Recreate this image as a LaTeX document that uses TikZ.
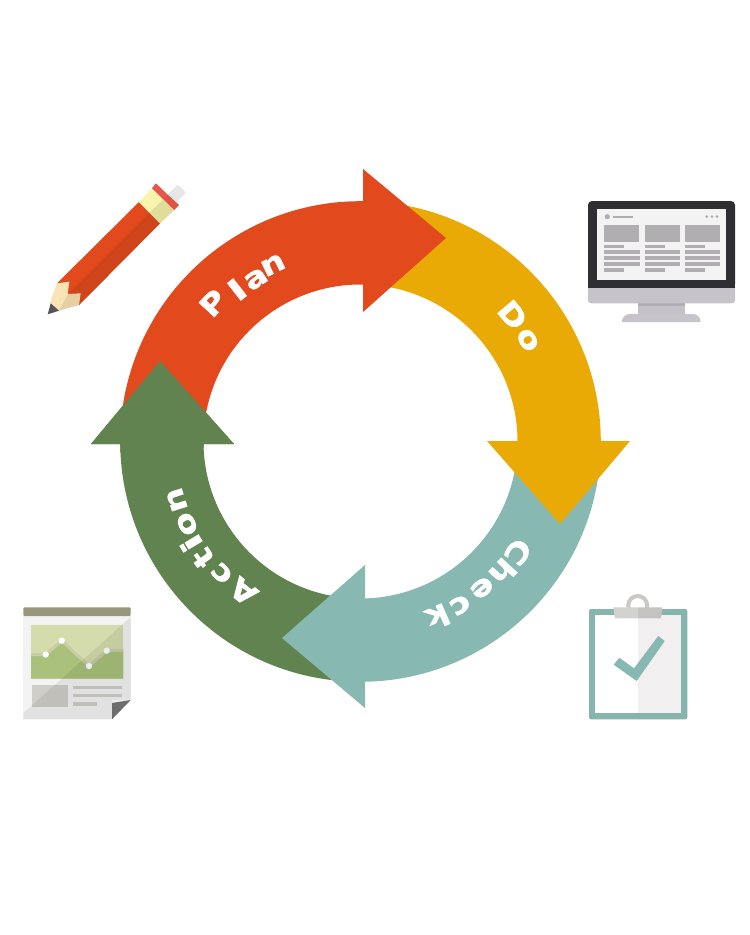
\documentclass[tikz,border=0pt]{standalone}
\usepackage{fontspec}
\usetikzlibrary{calc}
\setmainfont{DejaVu Sans}
\newfontfamily\labf[FakeStretch=1.18,BoldFeatures={FakeBold=1.2}]{DejaVu Sans}
\newfontfamily\labm[FakeStretch=1.5,BoldFeatures={FakeBold=1.2}]{DejaVu Sans}
\definecolor{cRed}{HTML}{E2491C}
\definecolor{cYel}{HTML}{EAAA05}
\definecolor{cTeal}{HTML}{88B8B2}
\definecolor{cGrn}{HTML}{60834F}
\definecolor{scr}{HTML}{B0AEB1}
\tikzset{
  letter/.style={text=white,inner sep=0pt,font=\labf\fontsize{29}{29}\bfseries\selectfont},
  slab/.style={text=white,inner sep=0pt,font=\labm\fontsize{29}{29}\bfseries\selectfont},
  blk/.style={fill=scr,draw=none},
  HTML/.code={\definecolor{tmpc}{HTML}{#1}\pgfkeysalso{color=tmpc}},
}
\newcommand{\band}[3]{\fill[#1] (360.5,441.5) ++(#2:240.3) arc[start angle=#2,end angle=#3,radius=240.3] -- ($(360.5,441.5)+(#3:157)$) arc[start angle=#3,end angle=#2,radius=157] -- cycle;}
\newcommand{\column}[1]{%
  \fill[blk] (#1,225) rectangle ++(35,17.3);
  \fill[blk] (#1,245) rectangle ++(20,3.3);
  \fill[blk] (#1,250) rectangle ++(35.5,4);
  \fill[blk] (#1,256) rectangle ++(35.5,4);
  \fill[blk] (#1,262) rectangle ++(35.5,4);
  \fill[blk] (#1,268.3) rectangle ++(20,3.7);
}
\begin{document}
\begin{tikzpicture}[x=1pt,y=1pt,yscale=-1]
\useasboundingbox (0,0) rectangle (750,935);
\fill[white] (0,0) rectangle (750,935);
% ring
\band{cGrn}{95}{181.5}
\fill[cGrn] (91,444) -- (234,444) -- (160,361) -- cycle;
\band{cTeal}{5}{90}
\fill[cTeal] (365,565) -- (365,708) -- (282,638) -- cycle;
\band{cYel}{275}{361}
\fill[cYel] (487,441) -- (630,441) -- (560,524) -- cycle;
\band{cRed}{183}{272}
\fill[cRed] (363,169) -- (446,238) -- (363,312) -- cycle;
\band{cGrn}{177.5}{181.5}
\fill[cGrn] (91,444) -- (234,444) -- (160,361) -- cycle;
% labels
\node[letter,rotate=47] (p1) at (213,303) {P};
\node[slab,rotate=38] (p2) at (237,289.5) {l};
\node[letter,rotate=33] (p3) at (256,279) {a};
\node[letter,rotate=26] (p4) at (273,265) {n};
\node[letter,rotate=-50] (d1) at (512.7,315) {D};
\node[letter,rotate=-58] (d2) at (527.7,340) {o};
\node[letter,rotate=235] (c1) at (518,552) {C};
\node[letter,rotate=227.6] (c2) at (503,572) {h};
\node[letter,rotate=219.5] (c3) at (482,588) {e};
\node[letter,rotate=211.3] (c4) at (460,605) {c};
\node[letter,rotate=203.9] (c5) at (438,617) {k};
\node[letter,rotate=142] (a1) at (243.3,591.7) {A};
\node[letter,rotate=133.5] (a2) at (221.7,573.3) {c};
\node[letter,rotate=125.6] (a3) at (203,558) {t};
\node[slab,rotate=121] (a4) at (191,543.5) {i};
\node[letter,rotate=116] (a5) at (187,524) {o};
\node[letter,rotate=107.6] (a6) at (176.7,500) {n};
% pencil
\fill[rounded corners=1.5pt,HTML=E6E6E6] (165,197) -- (177.7,184.3) -- (186,192.7) -- (172,207) -- cycle;
\fill[cRed] (57,283.3) -- (139,202) -- (160,223.3) -- (79,305) -- cycle;
\fill[HTML=CF441B] (149.3,212.7) -- (160,223.3) -- (79,305) -- (68,294) -- cycle;
\fill[HTML=F7F4AC] (139,202) -- (152,188.3) -- (163.3,199.3) -- (149.3,212.7) -- cycle;
\fill[HTML=E0DC9A] (149.3,212.7) -- (163.3,199.3) -- (174.3,210) -- (160,223.3) -- cycle;
\fill[HTML=E8564A] (152,188.3) -- (156,183.3) -- (167.5,194.5) -- (163.3,199.3) -- cycle;
\fill[HTML=DF5244] (163.3,199.3) -- (167.5,194.5) -- (179,205) -- (174.3,210) -- cycle;
\fill[HTML=FAE3B4] (57,283.3) -- (69.3,281.7) -- (67.7,294) -- (59,310.7) -- (50,303.3) -- cycle;
\fill[HTML=E5CFA3] (67.7,294) -- (80.7,293.3) -- (79,305) -- (59,310.7) -- cycle;
\fill[HTML=55555A] (47.7,314.3) -- (50.7,303.3) -- (59,310.7) -- cycle;
% monitor
\fill[HTML=C4C2C8] (638.3,303) rectangle (685,314);
\fill[HTML=B0AEB4] (638.3,303) rectangle (685,306);
\fill[HTML=C6C4CA] (621.7,322) to[out=-90,in=180] (630,314) -- (693,314) to[out=0,in=-90] (700.7,322) -- cycle;
\fill[HTML=C6C4CA,rounded corners=3pt] (588,280) rectangle (735,303.3);
\fill[HTML=2E2E33,rounded corners=4pt] (588,287.7) -- (588,201) -- (735,201) -- (735,287.7) -- cycle;
\fill[HTML=2E2E33] (588,280) rectangle (735,287.7);
\fill[HTML=F3F3F3] (597.3,209.3) rectangle (726,280);
\fill[blk] (607.3,216.7) circle[radius=2.6];
\fill[blk] (613.3,216) rectangle (633.3,217.5);
\foreach \d in {706.7,712,717} \fill[blk] (\d,216.7) circle[radius=1.5];
\column{604.3}\column{644.9}\column{684.5}
% newspaper
\fill[HTML=F3F3F3] (23.3,616) rectangle (130.7,700);
\fill[HTML=F3F3F3] (23.3,700) rectangle (111.7,719.3);
\fill[HTML=97977C,rounded corners=1pt] (23.3,607.3) rectangle (130.7,616);
\fill[HTML=D5DCAC] (31,625) rectangle (123.3,678.7);
\fill[HTML=A9C17A] (31,656) -- (45.7,655) -- (61.7,640.7) -- (89,666) -- (106.7,650.7) -- (123.3,651.7) -- (123.3,678.7) -- (31,678.7) -- cycle;
\draw[HTML=C9CCA6,line width=3pt] (31,654.5) -- (45.7,654.5) -- (61.7,640.7) -- (89,666) -- (106.7,650.7) -- (123.3,650.7);
\foreach \px/\py in {45.7/654.5,61.7/640.7,89/666,106.7/650.7} \fill[white] (\px,\py) circle[radius=3.2];
\fill[HTML=CFCEC8] (32.3,685.3) rectangle (68.3,706.7);
\fill[HTML=CFCEC8] (73.3,686) rectangle (122.3,689.3);
\fill[HTML=CFCEC8] (73.3,694) rectangle (122.3,697.3);
\fill[HTML=CFCEC8] (73.3,702.3) rectangle (97.3,705.7);
\fill[black,opacity=.07] (130.7,617) -- (130.7,700) -- (111.7,719.3) -- (23.3,719.3) -- (23.3,713) -- cycle;
\fill[HTML=6E6E6E] (130.7,700) -- (112,703) -- (112,719.3) -- cycle;
% clipboard
\fill[HTML=85B5AD,rounded corners=2pt] (589,609) rectangle (687.3,719.3);
\fill[white] (595,615) rectangle (680.7,713.3);
\fill[HTML=F1EFF0] (638.3,615) rectangle (680.7,713.3);
\draw[HTML=C9C8C6,line width=4pt] (637.7,605.5) circle[radius=9.5];
\fill[HTML=D2D2D0] (613.3,607.3) -- (638,607.3) -- (638,618.3) -- (615,618.3) -- cycle;
\fill[HTML=C4C3C1] (638,607.3) -- (662.3,607.3) -- (661,618.3) -- (638,618.3) -- cycle;
\fill[cTeal] (619.3,657.7) -- (634,668.3) -- (658.3,636) -- (664.7,641) -- (636.7,681) -- (613.7,664.7) -- cycle;
\end{tikzpicture}
\end{document}
